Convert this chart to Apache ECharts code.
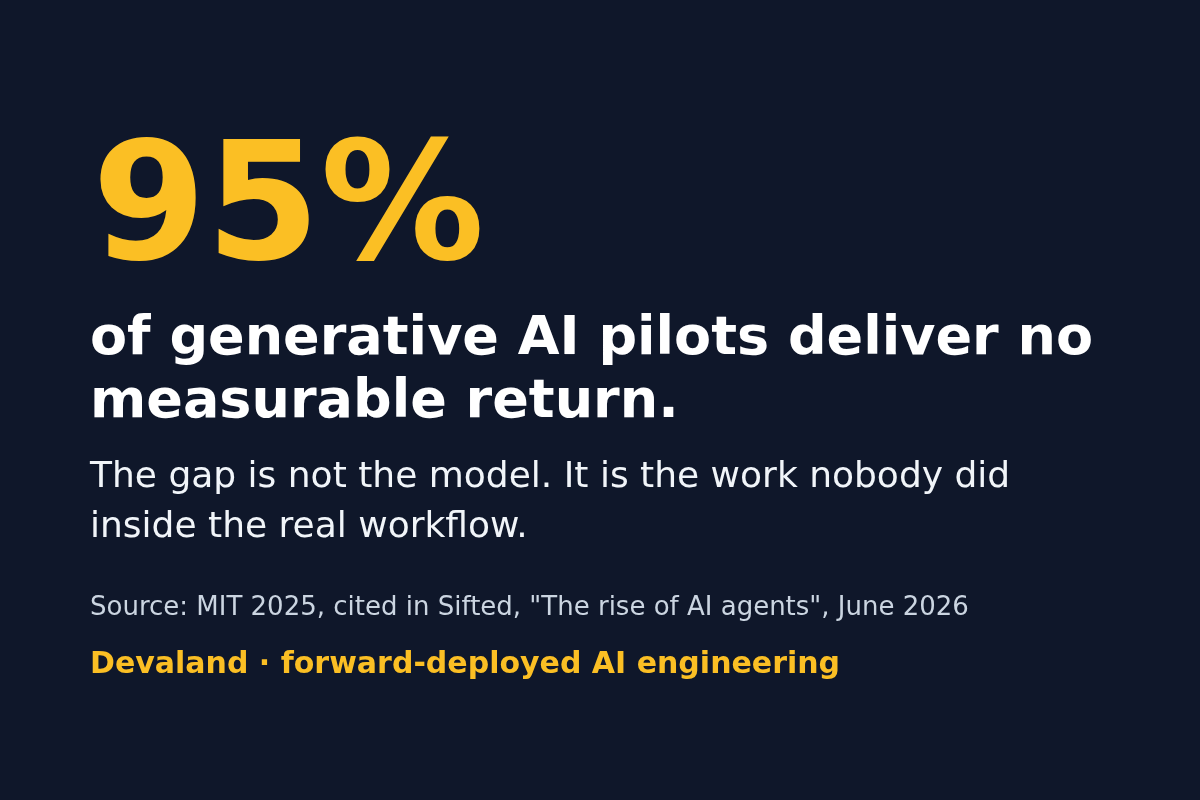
<!DOCTYPE html>
<html>
<head>
<meta charset="utf-8">
<script src="https://cdn.jsdelivr.net/npm/echarts@6/dist/echarts.min.js"></script>
<style>
  html, body { margin: 0; padding: 0; background: #0f172a; }
  #chart { width: 1200px; height: 800px; }
</style>
</head>
<body>
<div id="chart"></div>
<script>
// stat card texts
var statValue = '95%'
var headlineLines = ['of generative AI pilots deliver no', 'measurable return.']
var subLines = ['The gap is not the model. It is the work nobody did', 'inside the real workflow.']
var sourceText = 'Source: MIT 2025, cited in Sifted, "The rise of AI agents", June 2026'
var brandText = 'Devaland \u00b7 forward-deployed AI engineering'

var chart = echarts.init(document.getElementById('chart'))

function txt(str, x, y, size, weight, color) {
  return {
    type: 'text',
    left: x,
    top: y,
    style: {
      text: str,
      fill: color,
      font: weight + ' ' + size + 'px "DejaVu Sans"'
    }
  }
}

var elements = []
elements.push(txt(statValue, 92, 134, 164, 'bold', '#fbbf24'))
headlineLines.forEach(function (l, i) {
  elements.push(txt(l, 90, 313, 54, 'bold', '#ffffff'))
  elements[elements.length - 1].top = 313 + i * 63
})
subLines.forEach(function (l, i) {
  elements.push(txt(l, 90, 460 + i * 50, 36, 'normal', '#f1f5f9'))
})
elements.push(txt(sourceText, 90, 595, 26, 'normal', '#cbd5e1'))
elements.push(txt(brandText, 90, 650, 30, 'bold', '#fbbf24'))

chart.setOption({
  backgroundColor: '#0f172a',
  graphic: elements
})
</script>
</body>
</html>
